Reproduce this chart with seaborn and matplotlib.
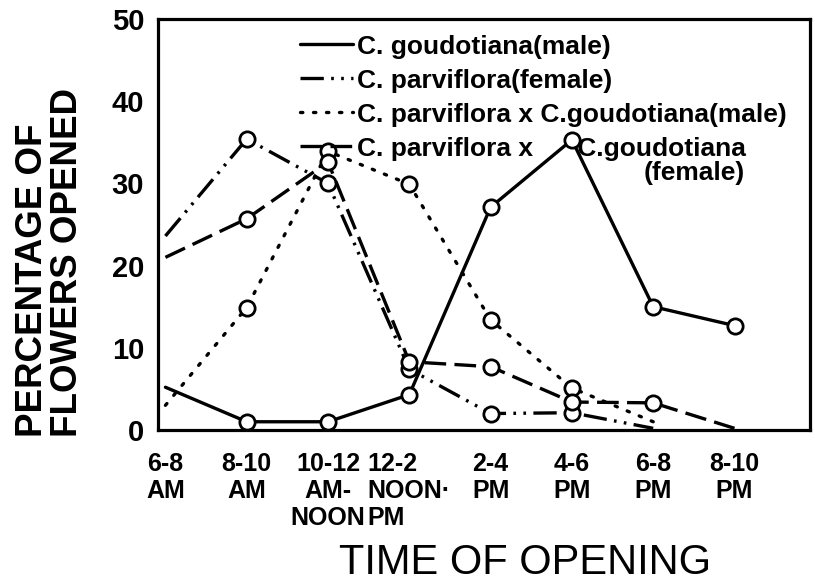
import numpy as np
import pandas as pd
import matplotlib
matplotlib.use('Agg')
import matplotlib.pyplot as plt
import seaborn as sns

# time slots along the x axis
time_labels = ['6-8\nAM', '8-10\nAM', '10-12\nAM-\nNOON', '12-2\nNOON·\nPM',
               '2-4\nPM', '4-6\nPM', '6-8\nPM', '8-10\nPM']
slot = np.arange(len(time_labels))

# percentage of flowers opened
goud_male = [5.2, 1.0, 1.0, 4.3, 27.1, 35.3, 15.0, 12.7]
parv_female = [23.6, 35.4, 30.0, 7.4, 2.0, 2.1, 0.2]
hyb_male = [3.0, 14.9, 33.9, 29.9, 13.4, 5.1, 1.0]
hyb_female = [21.0, 25.7, 32.6, 8.3, 7.7, 3.4, 3.3, 0.2]

series_names = ['C. goudotiana(male)', 'C. parviflora(female)',
                'C. parviflora x C.goudotiana(male)',
                'C. parviflora x      C.goudotiana']
y_ticks = [0, 10, 20, 30, 40, 50]

sns.set_style('white')
plt.rcParams['font.family'] = ['Liberation Sans', 'DejaVu Sans']
plt.rcParams['font.weight'] = 'bold'
plt.rcParams['text.color'] = 'black'
plt.rcParams['axes.labelcolor'] = 'black'
plt.rcParams['xtick.color'] = 'black'
plt.rcParams['ytick.color'] = 'black'

fig = plt.figure(figsize=(8.15, 5.85), dpi=100)
ax = fig.add_axes([0.194, 0.265, 0.8, 0.7025])

lw = 2.4
common = dict(color='black', lw=lw, marker='o', markersize=11,
              markerfacecolor='white', markeredgecolor='black',
              markeredgewidth=2.0, estimator=None, sort=False)

solid = (None, None)
dashdotdot = (7, 2.2, 0.8, 2.2, 0.8, 2.2)
dotted = (0.7, 3.2)
dashed = (6.5, 2.5)

styles = [
    (goud_male, solid, list(range(1, 8))),
    (parv_female, dashdotdot, list(range(1, 6))),
    (hyb_male, dotted, list(range(1, 6))),
    (hyb_female, dashed, list(range(1, 7))),
]


def style_line(line, dash):
    if dash[0] is None:
        return
    line.set_dashes(dash)
    line.set_dash_capstyle('round' if dash == dotted else 'butt')


handles = []
for (vals, dash, mev), name in zip(styles, series_names):
    df = pd.DataFrame({'slot': slot[:len(vals)], 'pct': vals})
    sns.lineplot(data=df, x='slot', y='pct', ax=ax, markevery=mev,
                 legend=False, **common)
    style_line(ax.lines[-1], dash)
    h, = ax.plot([], [], color='black', lw=lw)
    style_line(h, dash)
    handles.append(h)

ax.set_xlim(-0.09, 7.93)
ax.set_ylim(0, 50)
ax.set_xticks(slot)
ax.set_xticklabels(time_labels, fontsize=18, linespacing=1.15)
ax.get_xticklabels()[3].set_multialignment('left')
ax.set_yticks(y_ticks)
ax.set_yticklabels([str(t) for t in y_ticks], fontsize=21)
ax.tick_params(axis='y', direction='in', length=14, width=2.2, pad=10)
ax.tick_params(axis='x', direction='in', length=11, width=2.2, pad=16)

for sp in ax.spines.values():
    sp.set_linewidth(2.3)
    sp.set_color('black')

ax.set_xlabel('TIME OF OPENING', fontsize=30, fontweight='normal')
ax.xaxis.set_label_coords(0.563, -0.275)
ax.xaxis.label.set_va('top')

ax.set_ylabel('PERCENTAGE OF\nFLOWERS OPENED', fontsize=26.5, fontweight='bold',
              linespacing=1.0, ha='left', multialignment='left')
ax.yaxis.set_label_coords(-0.112, -0.017)

leg = ax.legend(handles, series_names, loc='upper left',
                bbox_to_anchor=(0.218, 0.962), frameon=False, fontsize=19,
                handlelength=2.0, handletextpad=0.15, labelspacing=0.38,
                borderpad=0, borderaxespad=0)
ax.text(0.9, 0.625, '(female)', transform=ax.transAxes, fontsize=19,
        ha='right', va='center')

fig.savefig('out.png', dpi=100)
